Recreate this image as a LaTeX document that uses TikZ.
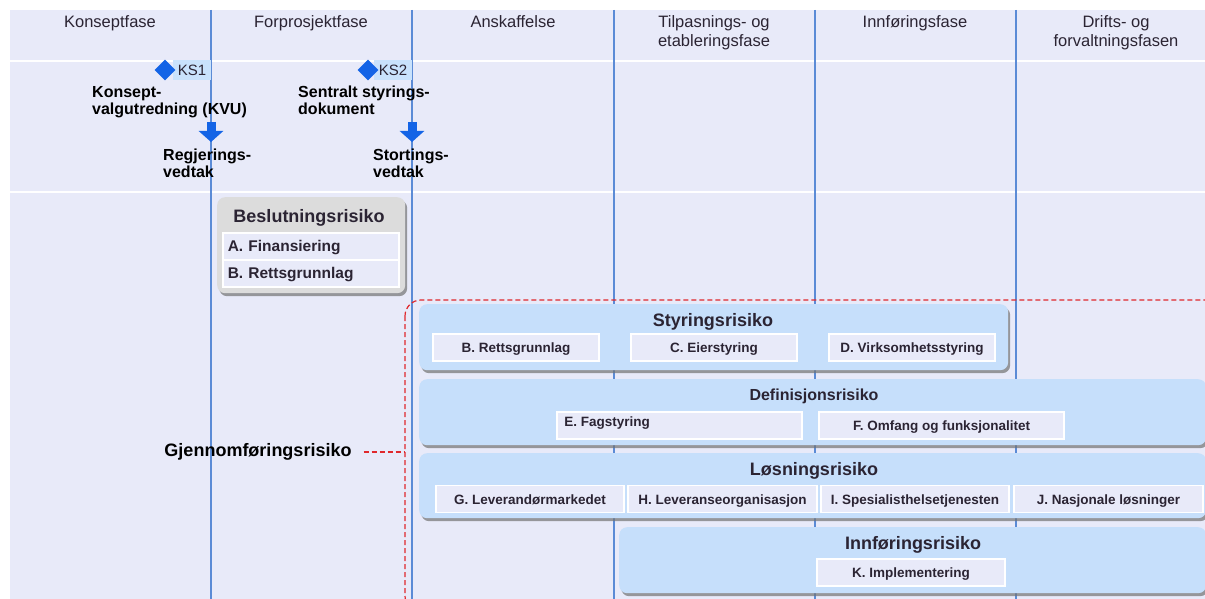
\documentclass[tikz,border=0pt]{standalone}
\usepackage{fontspec}
\setmainfont{Liberation Sans}
\usetikzlibrary{positioning,shapes.geometric,arrows.meta,shadows}
\definecolor{canvas}{HTML}{E8EAF9}
\definecolor{phaseline}{HTML}{5B8BD6}
\definecolor{riskblue}{HTML}{C6DFFB}
\definecolor{riskgray}{HTML}{DCDCDC}
\definecolor{ksblue}{HTML}{1464E6}
\definecolor{kslabel}{HTML}{C9E2FC}
\definecolor{ink}{HTML}{2B2433}
\definecolor{dashred}{HTML}{E0282C}

\begin{document}
\begin{tikzpicture}[
  x = 1pt,
  y = -1pt,
  phase/.style = {
    font = \fontsize{16.5}{19.5}\selectfont,
    text = ink,
    align = center,
    anchor = north,
    inner sep = 0,
  },
  note/.style = {
    font = \bfseries\fontsize{16}{17}\selectfont,
    text = black,
    align = left,
    anchor = north west,
    inner sep = 0,
  },
  ks/.style = {
    fill = kslabel,
    minimum width = 38pt,
    minimum height = 20pt,
    inner sep = 0,
    font = \fontsize{15}{17}\selectfont,
    text = ink,
  },
  gate/.style = {
    diamond,
    fill = ksblue,
    minimum size = 21pt,
    inner sep = 0,
  },
  vedtak/.style = {
    draw = ksblue,
    line width = 9pt,
    -{Triangle[width=24pt,length=11pt]},
  },
  risk/.style = {
    rectangle,
    rounded corners = 8pt,
    anchor = north west,
    inner sep = 0,
    drop shadow = {shadow xshift=2pt, shadow yshift=-3pt, fill=black!55, opacity=0.7},
  },
  bluerisk/.style = {risk, fill = riskblue},
  grayrisk/.style = {risk, fill = riskgray},
  title/.style = {
    font = \bfseries\fontsize{18}{20}\selectfont,
    text = ink,
    inner sep = 0,
  },
  item/.style = {
    rectangle,
    draw = white,
    line width = 1.5pt,
    fill = canvas,
    minimum height = 27pt,
    inner sep = 0,
    text height = 10pt,
    text depth = 0pt,
    font = \bfseries\fontsize{13.5}{16}\selectfont,
    text = ink,
  },
  redline/.style = {
    draw = dashred,
    line width = 1.2pt,
    dash pattern = on 5pt off 3pt,
  },
  >={Stealth[scale=1.8]},
]

  \useasboundingbox (0,0) rectangle (1205,599);
  \fill[canvas] (10,10) rectangle (1205,599);
  \draw[white, line width=2pt] (10,61) -- (1205,61);
  \draw[white, line width=2pt] (10,192) -- (1205,192);

  % phase columns
  \draw[phaseline, line width=1.3pt] (211,10) -- (211,599);
  \draw[phaseline, line width=1.3pt] (412,10) -- (412,599);
  \draw[phaseline, line width=1.3pt] (614,10) -- (614,599);
  \draw[phaseline, line width=1.3pt] (815,10) -- (815,599);
  \draw[phaseline, line width=1.3pt] (1016,10) -- (1016,599);

  \node[phase] (p1) at (110,15) {Konseptfase};
  \node[phase] (p2) at (311,15) {Forprosjektfase};
  \node[phase] (p3) at (513,15) {Anskaffelse};
  \node[phase] (p4) at (714,15) {Tilpasnings- og\\etableringsfase};
  \node[phase] (p5) at (915,15) {Innføringsfase};
  \node[phase] (p6) at (1116,15) {Drifts- og\\forvaltningsfasen};

  % quality gates
  \node[ks] (ks1lbl) at (192,70) {KS1};
  \node[gate] (ks1) at (165,70) {};
  \node[ks] (ks2lbl) at (393,70) {KS2};
  \node[gate] (ks2) at (368,70) {};

  \node[note] (kvu) at (92,86) {Konsept-\\valgutredning (KVU)};
  \node[note] (regj) at (163,149) {Regjerings-\\vedtak};
  \node[note] (sds) at (298,86) {Sentralt styrings-\\dokument};
  \node[note] (stort) at (373,149) {Stortings-\\vedtak};

  \coordinate (kvuarrow) at (211,122);
  \coordinate (regjarrow) at (211,142);
  \coordinate (sdsarrow) at (412,122);
  \coordinate (stortarrow) at (412,142);
  \draw[vedtak] (kvuarrow) -- (regjarrow);
  \draw[vedtak] (sdsarrow) -- (stortarrow);

  % beslutningsrisiko
  \node[grayrisk, minimum width=188pt, minimum height=96pt] (besl) at (217,197) {};
  \node[title] (beslt) at (309,218) {Beslutningsrisiko};
  \node[item, minimum width=176pt, anchor=north west, font=\bfseries\fontsize{15.5}{17}\selectfont, text height=11pt, text width=166pt, align=left] (a) at (222,232) {A. Finansiering};
  \node[item, minimum width=176pt, anchor=north west, font=\bfseries\fontsize{15.5}{17}\selectfont, text height=11pt, text width=166pt, align=left] (b) at (222,259) {B. Rettsgrunnlag};

  % gjennomfoeringsrisiko
  \draw[redline, rounded corners=16pt] (405,300) rectangle (1225,612);
  \node[title, text=black] (gjf) at (258,452) {Gjennomføringsrisiko};
  \coordinate (gjfend) at (405,452);
  \draw[redline] ([xshift=12pt]gjf.east) -- (gjfend);

  \node[bluerisk, minimum width=589pt, minimum height=66pt] (styr) at (419,304) {};
  \node[title] (styrt) at (713,322) {Styringsrisiko};
  \node[item, minimum width=166pt] (sb) at (516,347.5) {B. Rettsgrunnlag};
  \node[item, minimum width=166pt] (sc) at (714,347.5) {C. Eierstyring};
  \node[item, minimum width=166pt] (sd) at (912,347.5) {D. Virksomhetsstyring};

  \node[bluerisk, minimum width=787pt, minimum height=66pt] (def) at (419,379) {};
  \node[title, font=\bfseries\fontsize{16}{18}\selectfont] (deft) at (814,396) {Definisjonsrisiko};
  \node[item, minimum width=245pt,
    label={[anchor=north west, inner sep=0, xshift=8pt, yshift=-5pt, font=\bfseries\fontsize{13.5}{16}\selectfont, text=ink]north west:E. Fagstyring}] (de) at (679.5,425.5) {};
  \node[item, minimum width=245pt] (df) at (941.5,425.5) {F. Omfang og funksjonalitet};

  \node[bluerisk, minimum width=787pt, minimum height=65pt] (los) at (419,453) {};
  \node[title] (lost) at (814,471) {Løsningsrisiko};
  \node[item, minimum width=188pt] (lg) at (530,499) {G. Leverandørmarkedet};
  \node[item, minimum width=189pt] (lh) at (722.5,499) {H. Leveranseorganisasjon};
  \node[item, minimum width=188pt] (li) at (915,499) {I. Spesialisthelsetjenesten};
  \node[item, minimum width=189pt] (lj) at (1108.5,499) {J. Nasjonale løsninger};

  \node[bluerisk, minimum width=587pt, minimum height=66pt] (inn) at (619,527) {};
  \node[title] (innt) at (913,545) {Innføringsrisiko};
  \node[item, minimum width=188pt] (ik) at (911,572.5) {K. Implementering};

\end{tikzpicture}
\end{document}
